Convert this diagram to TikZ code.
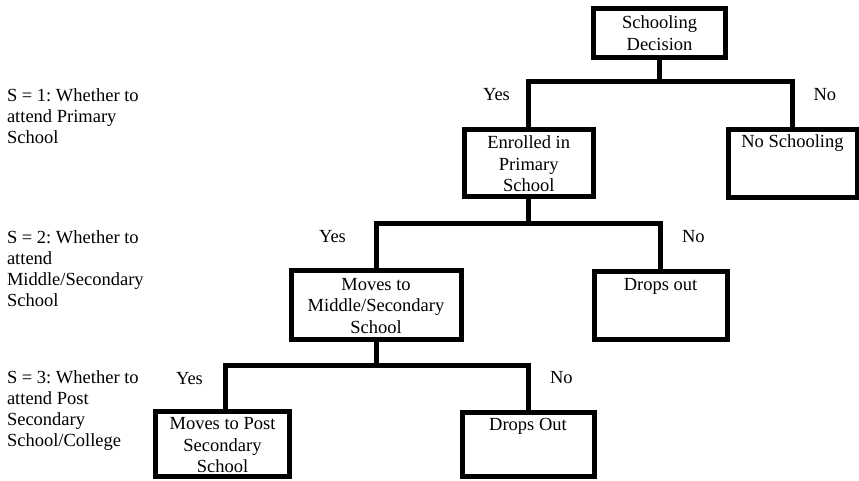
\documentclass[tikz,border=0pt]{standalone}
\usepackage{fontspec}
\setmainfont{Liberation Serif}
\frenchspacing
\newcommand{\boxtext}[4]{\parbox[c][#2pt][t]{#1pt}{\centering\fontsize{18.5}{21.7}\selectfont\rule{0pt}{#3pt}#4}}
\newcommand{\sidetext}[1]{\parbox[t]{200pt}{\raggedright\fontsize{18.5}{21}\selectfont #1}}
\tikzset{
  box/.style={draw, line width=5pt, inner sep=0pt, outer sep=0pt, anchor=north west, line join=miter},
  conn/.style={line width=5pt, line join=miter},
  lbl/.style={inner sep=0pt, outer sep=0pt, anchor=base west, font=\fontsize{18.5}{21}\selectfont},
}
\begin{document}
\begin{tikzpicture}[x=1pt,y=-1pt]
\useasboundingbox (0,0) rectangle (859,480);
% boxes
\node[box] (sd)   at (593.3,8.5)  {\boxtext{132.5}{49}{19.8}{Schooling\\Decision}};
\node[box] (enr)  at (464.5,129)  {\boxtext{128.5}{67}{19.3}{Enrolled in\\Primary\\School}};
\node[box] (ns)   at (728,129)    {\boxtext{129}{68}{18.5}{No Schooling}};
\node[box] (mid)  at (291,270)    {\boxtext{170}{69}{20}{Moves to\\Middle/Secondary\\School}};
\node[box] (do1)  at (594,271)    {\boxtext{133}{68.5}{19}{Drops out}};
\node[box] (post) at (155.5,411)  {\boxtext{134}{65.5}{18.3}{Moves to Post\\Secondary\\School}};
\node[box] (do2)  at (462,412)    {\boxtext{132}{64.5}{18.7}{Drops Out}};
% junctions
\coordinate (j1) at (0,81.3);
\coordinate (j2) at (0,223.3);
\coordinate (j3) at (0,365);
\coordinate (j3l) at (225.5,365);
% connectors
\draw[conn] (sd.south) -- (sd.south |- j1);
\draw[conn] (enr.north) -- (enr.north |- j1) -- (ns.north |- j1) -- (ns.north);
\draw[conn] (enr.south) -- (enr.south |- j2);
\draw[conn] (mid.north) -- (mid.north |- j2) -- (do1.north |- j2) -- (do1.north);
\draw[conn] (mid.south) -- (mid.south |- j3);
\draw[conn] (post.north -| j3l) -- (j3l) -- (do2.north |- j3l) -- (do2.north);
% branch labels
\node[lbl] (y1) at (483,100)   {Yes};
\node[lbl] (n1) at (813.5,100) {No};
\node[lbl] (y2) at (319,242.7) {Yes};
\node[lbl] (n2) at (682,242.7) {No};
\node[lbl] (y3) at (176,384)   {Yes};
\node[lbl] (n3) at (550,383.5) {No};
% side labels
\node[lbl] (s1) at (7,101.7) {\sidetext{S = 1: Whether to\\attend Primary\\School}};
\node[lbl] (s2) at (7,243.3) {\sidetext{S = 2: Whether to\\attend\\Middle/Secondary\\School}};
\node[lbl] (s3) at (7,383.3) {\sidetext{S = 3: Whether to\\attend Post\\Secondary\\School/College}};
\end{tikzpicture}
\end{document}
